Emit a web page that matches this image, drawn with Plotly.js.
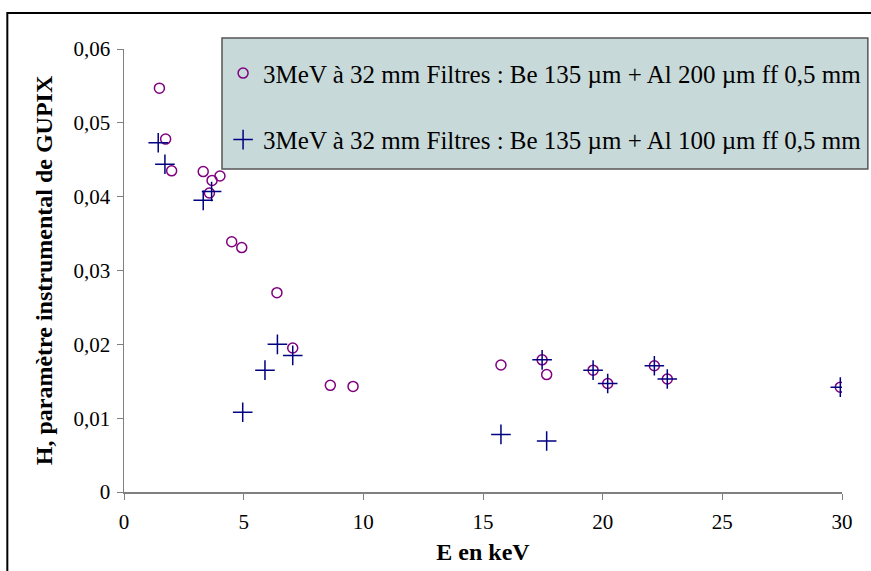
<!DOCTYPE html>
<html>
<head>
<meta charset="utf-8">
<script src="https://cdn.plot.ly/plotly-3.0.1.min.js"></script>
<style>html,body{margin:0;padding:0;background:#fff}#chart{width:871px;height:571px}</style>
</head>
<body>
<div id="chart"></div>
<script>
// Series 1: Be 135 µm + Al 200 µm (open circles)
const xAl200 = [1.48, 1.74, 1.99, 3.31, 3.57, 3.68, 4.01, 4.50, 4.92, 6.39, 7.05, 8.62, 9.57, 15.75, 17.47, 17.66, 19.60, 20.21, 22.16, 22.70, 29.93];
const yAl200 = [0.0547, 0.0478, 0.0435, 0.0434, 0.0405, 0.0422, 0.0428, 0.0339, 0.0331, 0.0270, 0.0195, 0.01445, 0.0143, 0.0172, 0.0179, 0.0159, 0.0165, 0.0147, 0.0171, 0.0153, 0.0142];
// Series 2: Be 135 µm + Al 100 µm (crosses)
const xAl100 = [1.43, 1.71, 3.31, 3.66, 4.96, 5.89, 6.41, 7.05, 15.75, 17.47, 17.66, 19.60, 20.21, 22.16, 22.70, 29.93];
const yAl100 = [0.0473, 0.0444, 0.0395, 0.0407, 0.0108, 0.0165, 0.0200, 0.0185, 0.0078, 0.0179, 0.0069, 0.0165, 0.0147, 0.0171, 0.0153, 0.0142];

const seriesNames = [
  "3MeV à 32 mm Filtres : Be 135 µm + Al 200 µm ff 0,5 mm",
  "3MeV à 32 mm Filtres : Be 135 µm + Al 100 µm ff 0,5 mm"
];
const xTicks = [0, 5, 10, 15, 20, 25, 30];
const yTicks = [0, 0.01, 0.02, 0.03, 0.04, 0.05, 0.06];
const yTickText = ["0", "0,01", "0,02", "0,03", "0,04", "0,05", "0,06"];

const serif = "Liberation Serif, Times New Roman, serif";

const traces = [
  {
    x: xAl200, y: yAl200, name: seriesNames[0], type: "scatter", mode: "markers",
    legendgroup: "a",
    marker: {symbol: "circle-open", size: 10, color: "#800080", line: {width: 1.5, color: "#800080"}}
  },
  {
    x: xAl100, y: yAl100, name: seriesNames[1], type: "scatter", mode: "markers",
    legendgroup: "b",
    marker: {symbol: "cross-thin-open", size: 14, color: "#000080", line: {width: 1.5, color: "#000080"}}
  }
];

const layout = {
  width: 871, height: 571,
  paper_bgcolor: "#ffffff", plot_bgcolor: "#ffffff",
  margin: {l: 124, r: 29, t: 49, b: 79, autoexpand: false},
  font: {family: serif, color: "#000000", size: 21},
  showlegend: true,
  legend: {
    x: 0.138, xanchor: "left", y: 0.997, yanchor: "top",
    bgcolor: "rgba(0,0,0,0)", borderwidth: 0,
    font: {family: serif, size: 25, color: "#000000"},
    traceorder: "grouped", tracegroupgap: 31,
    itemsizing: "trace", itemwidth: 30
  },
  xaxis: {
    range: [0, 30], tickvals: xTicks, ticktext: xTicks.map(String),
    showgrid: false, zeroline: false, showline: true, linecolor: "#808080", linewidth: 1.5,
    ticks: "outside", ticklen: 6, tickcolor: "#808080", tickwidth: 1,
    ticklabelstandoff: 4,
    tickfont: {family: serif, size: 21},
    title: {text: "<b>E en keV</b>", font: {family: serif, size: 24}, standoff: 10}
  },
  yaxis: {
    range: [0, 0.06], tickvals: yTicks, ticktext: yTickText,
    showgrid: false, zeroline: false, showline: true, linecolor: "#808080", linewidth: 1.5,
    ticks: "outside", ticklen: 6, tickcolor: "#808080", tickwidth: 1,
    ticklabelstandoff: 2,
    tickfont: {family: serif, size: 21},
    title: {text: "<b>H, paramètre instrumental de GUPIX</b>", font: {family: serif, size: 24}, standoff: 14}
  },
  shapes: [
    {type: "rect", xref: "paper", yref: "paper",
     x0: 0.1365, x1: 1.036, y0: 0.729, y1: 1.0248,
     line: {color: "#555555", width: 1.5}, fillcolor: "#C8D9D9", layer: "below"},
    {type: "rect", xref: "paper", yref: "paper",
     x0: -0.1625, x1: 1.2, y0: -0.3, y1: 1.0813,
     line: {color: "#000000", width: 2}, fillcolor: "rgba(0,0,0,0)", layer: "above"}
  ]
};

Plotly.newPlot("chart", traces, layout, {displayModeBar: false, staticPlot: true});
</script>
</body>
</html>
